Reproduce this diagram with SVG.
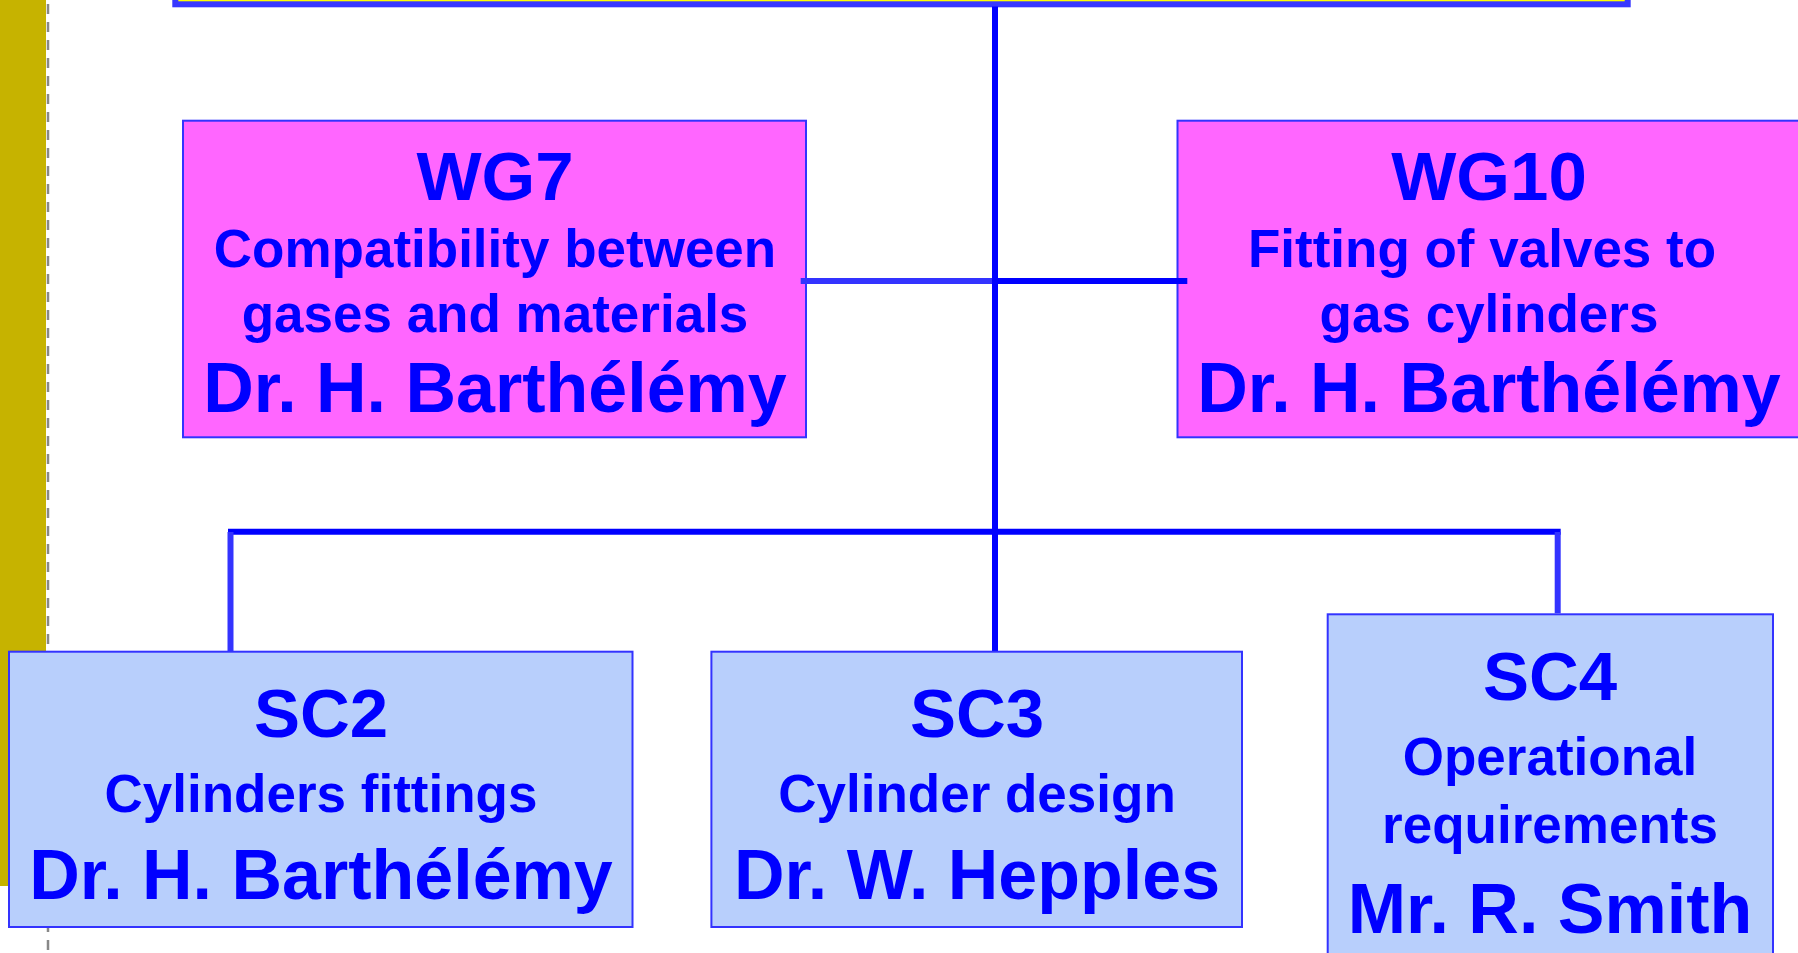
<svg xmlns="http://www.w3.org/2000/svg" width="1798" height="953" viewBox="0 0 1798 953">
  <style>
    .wg { fill: #FF66FF; stroke: #3333FF; stroke-width: 2; }
    .sc { fill: #B8CFFC; stroke: #3333FF; stroke-width: 2; }
    .t { font-family: "Liberation Sans", Arial, sans-serif; font-weight: bold; fill: #0000FF; text-anchor: middle; }
    .big { font-size: 69px; }
    .name { font-size: 70px; }
    .sub { font-size: 53px; }
    .main { stroke: #0000FF; stroke-width: 6; fill: none; }
    .soft { stroke: #3333FF; stroke-width: 6; fill: none; }
  </style>

  <rect width="1798" height="953" fill="#FFFFFF"/>

  <!-- slide margin: olive bar and dashed guide -->
  <rect x="0" y="0" width="46" height="886" fill="#C6B300"/>
  <line x1="48" y1="4" x2="48" y2="953" stroke="#888888" stroke-width="2.5" stroke-dasharray="10 8"/>

  <!-- parent committee box (only its lower edge is in view) -->
  <g id="parent">
    <rect x="175.3" y="-60" width="1452.4" height="64.3" fill="#FFFF00" stroke="#3838FF" stroke-width="6"/>
    <rect x="181" y="-60" width="1441" height="58.6" fill="none" stroke="#3838FF" stroke-width="1.5"/>
  </g>

  <!-- working groups -->
  <g id="wg7">
    <rect class="wg" x="183" y="120.7" width="623" height="316.6"/>
    <text class="t big" x="495" y="199.5">WG7</text>
    <text class="t sub" x="495" y="266.7">Compatibility between</text>
    <text class="t sub" x="495" y="331.7">gases and materials</text>
    <text class="t name" x="495" y="411.7">Dr. H. Barthélémy</text>
  </g>

  <g id="wg10">
    <rect class="wg" x="1177.5" y="120.7" width="624" height="316.6"/>
    <text class="t big" x="1489" y="199.5">WG10</text>
    <text class="t sub" x="1482" y="266.7">Fitting of valves to</text>
    <text class="t sub" x="1489" y="331.7">gas cylinders</text>
    <text class="t name" x="1489" y="411.7">Dr. H. Barthélémy</text>
  </g>

  <!-- connectors -->
  <g id="connectors">
    <line class="soft" x1="800.7" y1="281" x2="995" y2="281"/>
    <line class="main" x1="995" y1="281" x2="1187.3" y2="281"/>
    <line class="main" x1="995" y1="6.5" x2="995" y2="651.7"/>
    <line class="main" x1="228" y1="531.7" x2="1560.7" y2="531.7"/>
    <line class="soft" x1="230.5" y1="532" x2="230.5" y2="651.7"/>
    <line class="soft" x1="1557.7" y1="532" x2="1557.7" y2="613.3"/>
  </g>

  <!-- sub-committees -->
  <g id="sc2">
    <rect class="sc" x="9" y="651.7" width="623.5" height="275.3"/>
    <text class="t big" x="321" y="736.7">SC2</text>
    <text class="t sub" x="321" y="811.7">Cylinders fittings</text>
    <text class="t name" x="321" y="899">Dr. H. Barthélémy</text>
  </g>

  <g id="sc3">
    <rect class="sc" x="711.4" y="651.7" width="530.6" height="275.3"/>
    <text class="t big" x="977" y="736.7">SC3</text>
    <text class="t sub" x="977" y="811.7">Cylinder design</text>
    <text class="t name" x="977" y="899">Dr. W. Hepples</text>
  </g>

  <g id="sc4">
    <rect class="sc" x="1327.7" y="614.3" width="445.3" height="360"/>
    <text class="t big" x="1550" y="700">SC4</text>
    <text class="t sub" x="1550" y="775">Operational</text>
    <text class="t sub" x="1550" y="843">requirements</text>
    <text class="t name" x="1550" y="932.7">Mr. R. Smith</text>
  </g>
</svg>
